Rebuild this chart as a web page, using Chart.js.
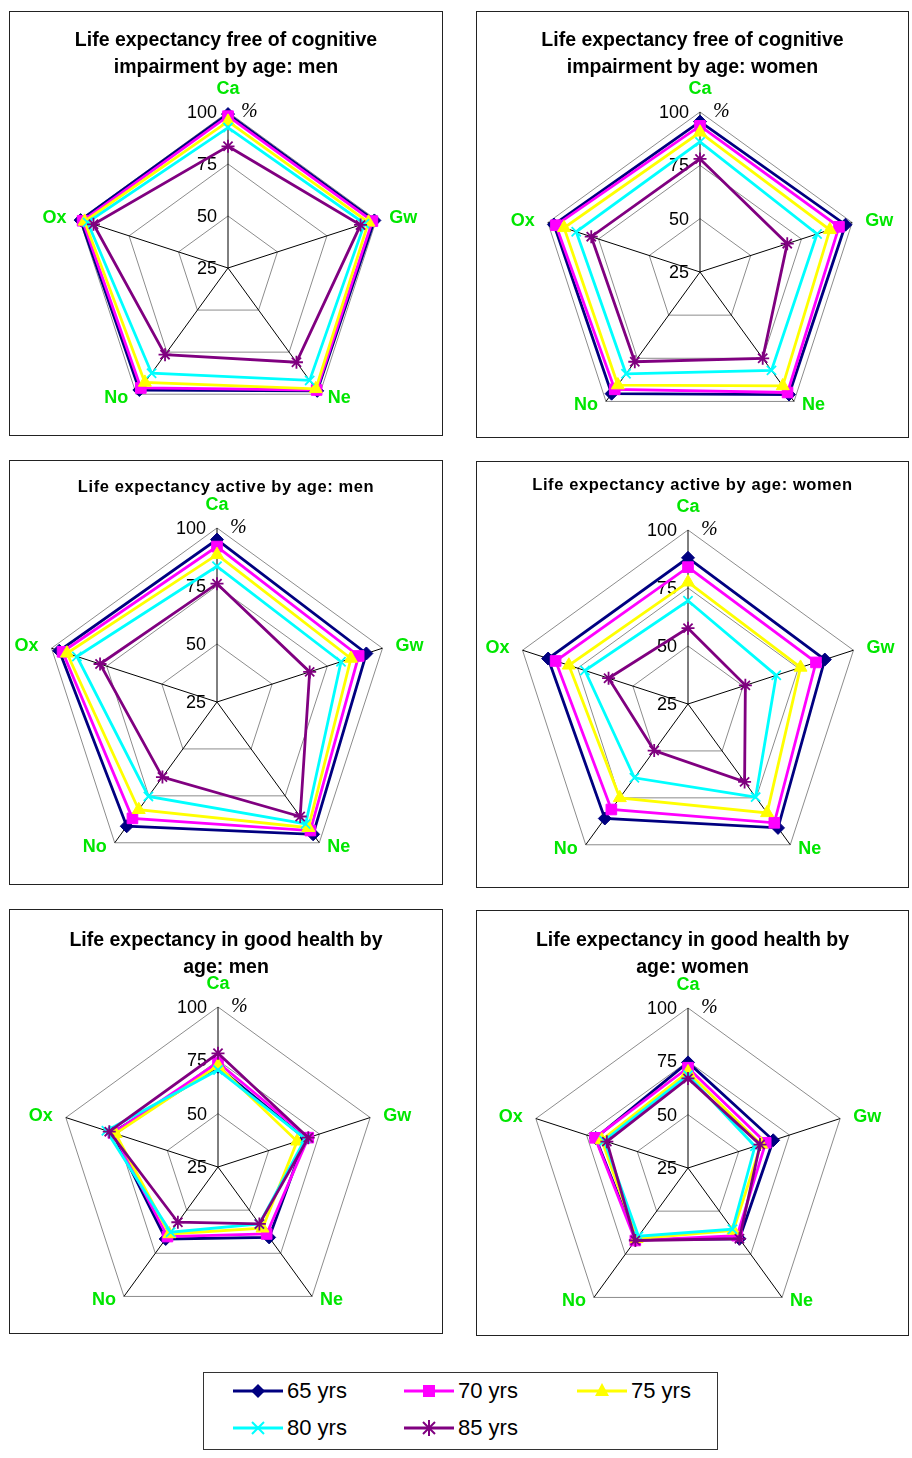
<!DOCTYPE html>
<html>
<head>
<meta charset="utf-8">
<script src="https://cdn.jsdelivr.net/npm/chart.js@4.4.1/dist/chart.umd.min.js"></script>
<style>
  html, body { margin:0; padding:0; background:#fff; }
  #page { position:relative; width:912px; height:1458px; overflow:hidden; font-family:"Liberation Sans", Arial, sans-serif; }
  .box { position:absolute; box-sizing:border-box; border:1.5px solid #222; }
  canvas.rc { position:absolute; }
  .title { position:absolute; text-align:center; font-weight:bold; color:#000; }
  .legend { position:absolute; box-sizing:border-box; border:1.5px solid #333; }
  .lg { position:absolute; font-size:22px; color:#000; white-space:nowrap; }
  svg.lm { position:absolute; }
</style>
</head>
<body>
<div id="page"></div>
<script>
// ---------- data ----------
const AXES = ['Ca', 'Gw', 'Ne', 'No', 'Ox'];
const SERIES = ['65 yrs', '70 yrs', '75 yrs', '80 yrs', '85 yrs'];
const TICKS = [25, 50, 75, 100];

// free of cognitive impairment – men
const cogMen65 = [99, 99, 98, 97.5, 99.5];
const cogMen70 = [98, 98, 97.5, 96.3, 98.5];
const cogMen75 = [95.5, 96, 96.8, 93, 97.5];
const cogMen80 = [92.5, 94, 91.8, 87.5, 96];
const cogMen85 = [83.5, 92, 81, 76.5, 93];
// free of cognitive impairment – women
const cogWom65 = [95.5, 96.7, 96, 95.5, 97];
const cogWom70 = [93.5, 93.5, 94.8, 93, 96];
const cogWom75 = [90.5, 89, 91, 90.5, 92];
const cogWom80 = [86, 82.7, 82, 84, 86];
const cogWom85 = [78, 68, 75, 77, 78.6];
// active – men
const actMen65 = [95, 92.7, 95.5, 91.2, 96.5];
const actMen70 = [92, 89.2, 93.5, 87, 95];
const actMen75 = [88.5, 85.7, 92, 82.4, 93];
const actMen80 = [83.5, 81.2, 90, 75.3, 88.5];
const actMen85 = [76, 67, 86, 65, 78];
// active – women
const actWom65 = [88, 87, 91, 86, 88.4];
const actWom70 = [84, 83, 88.3, 81.2, 85];
const actWom75 = [77.5, 76, 83, 75, 79];
const actWom80 = [69.5, 65, 74.6, 64.3, 71.7];
const actWom85 = [57.7, 51, 66.5, 49.8, 61];
// good health – men
const ghMen65 = [72, 68, 65.8, 66.7, 77];
const ghMen70 = [74, 69.5, 63.8, 65.3, 76.6];
const ghMen75 = [72.5, 64, 60.5, 63.8, 75.5];
const ghMen80 = [70.5, 68, 58, 62.8, 80];
const ghMen85 = [78.3, 69.5, 58, 57, 78.6];
// good health – women
const ghWom65 = [74.5, 67, 66, 66.5, 70.5];
const ghWom70 = [72, 63.3, 64.2, 67, 70.8];
const ghWom75 = [70, 61, 61.2, 66, 67.5];
const ghWom80 = [68.5, 58, 60.5, 64.5, 66.3];
const ghWom85 = [67, 60.5, 66, 67, 65];

const TITLES = [
  ['Life expectancy free of cognitive', 'impairment by age: men'],
  ['Life expectancy free of cognitive', 'impairment by age: women'],
  ['Life expectancy active by age: men'],
  ['Life expectancy active by age: women'],
  ['Life expectancy in good health by', 'age: men'],
  ['Life expectancy in good health by', 'age: women']
];
const PANEL_DATA = [
  [cogMen65, cogMen70, cogMen75, cogMen80, cogMen85],
  [cogWom65, cogWom70, cogWom75, cogWom80, cogWom85],
  [actMen65, actMen70, actMen75, actMen80, actMen85],
  [actWom65, actWom70, actWom75, actWom80, actWom85],
  [ghMen65, ghMen70, ghMen75, ghMen80, ghMen85],
  [ghWom65, ghWom70, ghWom75, ghWom80, ghWom85]
];

// ---------- styles / layout ----------
const COLORS = ['#000080', '#ff00ff', '#ffff00', '#00ffff', '#800080'];
const PSTYLE = ['rectRot', 'rect', 'triangle', 'crossRot', 'star'];
const PRAD = [6.5, 7.5, 7.5, 6.5, 6.5];
const LABEL_GREEN = '#00e600';

// box: left, top, right, bottom ; center cx, cy ; radius R ; title layout
const PANELS = [
  {l:9,   t:11,  r:443, b:436, cx:228, cy:268,  R:156, tTop:26,  tSize:19.5, tLH:26.5, tLS:0},
  {l:476, t:11,  r:909, b:438, cx:700, cy:272,  R:160, tTop:26,  tSize:19.5, tLH:26.5, tLS:0},
  {l:9,   t:460, r:443, b:885, cx:217, cy:702,  R:174, tTop:473, tSize:16.5, tLH:26,   tLS:0.6},
  {l:476, t:461, r:909, b:888, cx:688, cy:704,  R:174, tTop:471, tSize:16.5, tLH:26,   tLS:0.6},
  {l:9,   t:909, r:443, b:1334,cx:218, cy:1167, R:160, tTop:926, tSize:19.5, tLH:26.5, tLS:0},
  {l:476, t:910, r:909, b:1336,cx:688, cy:1168, R:160, tTop:926, tSize:19.5, tLH:26.5, tLS:0}
];

const page = document.getElementById('page');

const radarText = {
  id: 'radarText',
  beforeDatasetsDraw(chart) {
    const s = chart.scales.r, ctx = chart.ctx;
    ctx.save();
    // value labels along the Ca axis
    ctx.fillStyle = '#000';
    ctx.font = '18px "Liberation Sans", Arial, sans-serif';
    ctx.textAlign = 'right';
    ctx.textBaseline = 'middle';
    TICKS.forEach(v => {
      const p = s.getPointPositionForValue(0, v);
      ctx.fillText(String(v), p.x - 11, p.y + 1);
    });
    const top = s.getPointPositionForValue(0, 100);
    ctx.font = 'italic 20px "Liberation Serif", "Times New Roman", serif';
    ctx.textAlign = 'left';
    ctx.fillText('%', top.x + 13, top.y);
    // category labels
    ctx.font = 'bold 18px "Liberation Sans", Arial, sans-serif';
    ctx.fillStyle = LABEL_GREEN;
    const off = [
      {dx:0,   dy:-23, a:'center'},
      {dx:13,  dy:-2,  a:'left'},
      {dx:8,   dy:4,   a:'left'},
      {dx:-8,  dy:4,   a:'right'},
      {dx:-13, dy:-2,  a:'right'}
    ];
    AXES.forEach((lab, i) => {
      const p = s.getPointPositionForValue(i, 100);
      ctx.textAlign = off[i].a;
      ctx.fillText(lab, p.x + off[i].dx, p.y + off[i].dy);
    });
    ctx.restore();
  }
};

PANELS.forEach((P, k) => {
  const w = P.r - P.l, h = P.b - P.t;
  const box = document.createElement('div');
  box.className = 'box';
  Object.assign(box.style, {left: P.l + 'px', top: P.t + 'px', width: w + 'px', height: h + 'px'});
  page.appendChild(box);

  const cv = document.createElement('canvas');
  cv.className = 'rc';
  cv.width = w; cv.height = h;
  Object.assign(cv.style, {left: P.l + 'px', top: P.t + 'px', width: w + 'px', height: h + 'px'});
  page.appendChild(cv);

  const title = document.createElement('div');
  title.className = 'title';
  Object.assign(title.style, {
    left: P.l + 'px', width: w + 'px', top: P.tTop + 'px',
    fontSize: P.tSize + 'px', lineHeight: P.tLH + 'px', letterSpacing: P.tLS + 'px'
  });
  title.innerHTML = TITLES[k].join('<br>');
  page.appendChild(title);

  const lx = P.cx - P.l, ly = P.cy - P.t;
  new Chart(cv, {
    type: 'radar',
    data: {
      labels: AXES,
      datasets: SERIES.map((name, i) => ({
        label: name,
        data: PANEL_DATA[k][i],
        borderColor: COLORS[i],
        backgroundColor: COLORS[i],
        borderWidth: 2.8,
        fill: false,
        tension: 0,
        pointStyle: PSTYLE[i],
        pointRadius: PRAD[i],
        pointBackgroundColor: COLORS[i],
        pointBorderColor: COLORS[i],
        pointBorderWidth: (i >= 3) ? 1.8 : 1,
        order: SERIES.length - i
      }))
    },
    options: {
      responsive: false,
      animation: false,
      devicePixelRatio: 1,
      layout: { padding: { left: lx - P.R, right: w - (lx + P.R), top: ly - P.R, bottom: h - (ly + P.R) } },
      plugins: { legend: { display: false }, tooltip: { enabled: false }, title: { display: false } },
      scales: {
        r: {
          min: 25, max: 100,
          ticks: { stepSize: 25, display: false },
          grid: { color: '#8c8c8c', lineWidth: 1 },
          angleLines: { color: '#000', lineWidth: 1 },
          pointLabels: { display: false }
        }
      }
    },
    plugins: [radarText]
  });
});

// ---------- legend ----------
const LEG = {l:203, t:1372, r:718, b:1450};
const lgBox = document.createElement('div');
lgBox.className = 'legend';
Object.assign(lgBox.style, {left: LEG.l + 'px', top: LEG.t + 'px', width: (LEG.r - LEG.l) + 'px', height: (LEG.b - LEG.t) + 'px'});
page.appendChild(lgBox);

const LEG_POS = [
  {x:233, y:1391}, {x:404, y:1391}, {x:577, y:1391},
  {x:233, y:1428}, {x:404, y:1428}
];
function markerSVG(i, c) {
  const cx = 25, cy = 10;
  switch (i) {
    case 0: return `<polygon points="${cx},${cy-7} ${cx+7},${cy} ${cx},${cy+7} ${cx-7},${cy}" fill="${c}"/>`;
    case 1: return `<rect x="${cx-6}" y="${cy-6}" width="12" height="12" fill="${c}"/>`;
    case 2: return `<polygon points="${cx},${cy-8} ${cx+7},${cy+5} ${cx-7},${cy+5}" fill="${c}"/>`;
    case 3: return `<path d="M${cx-6},${cy-6}L${cx+6},${cy+6}M${cx+6},${cy-6}L${cx-6},${cy+6}" stroke="${c}" stroke-width="2"/>`;
    default: return `<path d="M${cx-6},${cy-6}L${cx+6},${cy+6}M${cx+6},${cy-6}L${cx-6},${cy+6}M${cx},${cy-8}L${cx},${cy+8}" stroke="${c}" stroke-width="2"/>`;
  }
}
SERIES.forEach((name, i) => {
  const p = LEG_POS[i];
  const svg = document.createElementNS('http://www.w3.org/2000/svg', 'svg');
  svg.setAttribute('class', 'lm');
  svg.setAttribute('width', '50'); svg.setAttribute('height', '20');
  svg.style.left = p.x + 'px'; svg.style.top = (p.y - 10) + 'px';
  svg.innerHTML = `<line x1="0" y1="10" x2="50" y2="10" stroke="${COLORS[i]}" stroke-width="3"/>` + markerSVG(i, COLORS[i]);
  page.appendChild(svg);
  const t = document.createElement('div');
  t.className = 'lg';
  t.textContent = name;
  t.style.left = (p.x + 54) + 'px';
  t.style.top = (p.y - 13) + 'px';
  t.style.lineHeight = '26px';
  page.appendChild(t);
});
</script>
</body>
</html>
